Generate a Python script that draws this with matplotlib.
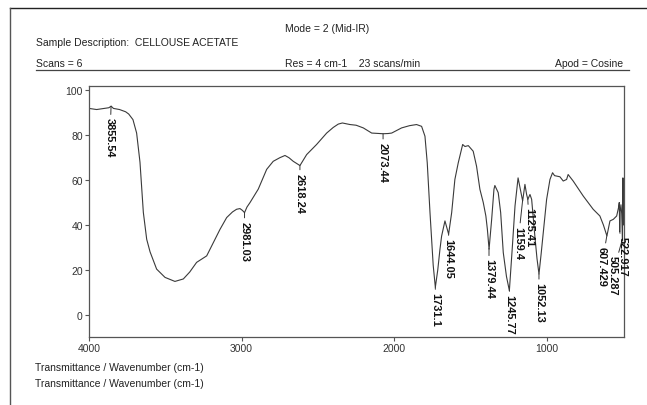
import matplotlib.pyplot as plt
import numpy as np

plt.rcParams['font.family'] = ['Liberation Sans', 'DejaVu Sans']

# spectrum (wavenumber cm-1 / %T)
wavenumber = [4000, 3950, 3900, 3870, 3855, 3840, 3800, 3760, 3740, 3712, 3688, 3666, 3644, 3622,
              3600, 3557, 3502, 3437, 3382, 3340, 3295, 3229, 3207, 3142, 3098, 3060, 3033, 3011,
              2995, 2981, 2965, 2945, 2891, 2836, 2793, 2750, 2716, 2690, 2662, 2618, 2574, 2509,
              2443, 2400, 2367, 2340, 2290, 2250, 2203, 2148, 2100, 2073, 2040, 2017, 1952, 1900,
              1854, 1821, 1799, 1784, 1766, 1745, 1731, 1715, 1701, 1690, 1668, 1653, 1644, 1624,
              1603, 1581, 1552, 1537, 1515, 1483, 1461, 1439, 1417, 1400, 1390, 1379, 1362, 1347,
              1341, 1319, 1303, 1286, 1265, 1246, 1226, 1209, 1189, 1174, 1159, 1144, 1133, 1125,
              1111, 1100, 1079, 1065, 1052, 1038, 1024, 1002, 980, 963, 950, 937, 915, 893, 871,
              861, 828, 762, 697, 653, 630, 607, 587, 565, 543, 530, 526, 523, 520, 515, 510, 505,
              502, 498, 496]
transmittance = [92, 91.5, 92, 92.3, 93, 92, 91.5, 90.5, 89.5, 87, 81, 68, 45.6, 33.6,
                 28, 20.3, 16.6, 14.8, 15.9, 19, 23.3, 26.2, 29.2, 38, 43.3, 45.8, 47, 47.3,
                 46.5, 45.5, 48, 50, 56, 64.8, 68.4, 70, 71, 70, 68.4, 66.5, 71.4, 75.9,
                 81, 83.5, 85, 85.5, 84.8, 84.5, 83.3, 81, 80.8, 80.7, 80.8, 81, 83.3, 84.3,
                 84.8, 84, 79.6, 67.7, 45.5, 22, 12.2, 20, 29, 35, 41.8, 38, 35.9, 45.5,
                 60.3, 67.7, 75.9, 75, 75.4, 72.9, 66.2, 55.9, 50, 44, 38, 29.2, 42.5, 55.9,
                 57.6, 54.4, 45.5, 27.7, 17, 10.7, 30.7, 48.5, 61, 55.9, 50.7, 58.1, 53.6, 51.4,
                 53.6, 51.4, 35, 25, 18.1, 27, 36.6, 51.4, 60.3, 63.3, 62, 61.8, 61.5, 59.6, 60.3,
                 62.5, 59.6, 52.9, 47, 44, 40, 35.1, 41.8, 42.5, 44, 48, 50, 37, 46, 49, 45, 33,
                 61, 40, 50]

peaks = [3855.54, 2981.03, 2618.24, 2073.44, 1731.1, 1644.05, 1379.44, 1245.77,
         1159.4, 1125.41, 1052.13, 607.429, 505.287, 522.917]
peak_text = ['3855.54', '2981.03', '2618.24', '2073.44', '1731.1', '1644.05', '1379.44', '1245.77',
             '1159.4', '1125.41', '1052.13', '607.429', '505.287', '522.917']
# label offsets in pixels (dx, dy down)
label_off = [(-1, 11), (0, 8), (0, 7), (0, 8), (0, 5), (0, 4), (0, 10), (0, 4),
             (-4.5, 25), (1.5, 8), (0, 8), (-5, 10), (-10, 16), (3, 5)]

fig = plt.figure(figsize=(6.47, 4.06), dpi=100)
ax = fig.add_axes([89 / 647, 1 - 338 / 406, 535 / 647, 251 / 406])

ax.plot(wavenumber, transmittance, color='#3a3a3a', lw=0.8)
ax.set_xlim(4000, 495)
ax.set_ylim(-10, 102)
ax.set_xticks([4000, 3000, 2000, 1000])
ax.set_yticks([0, 20, 40, 60, 80, 100])
ax.tick_params(direction='out', length=3, width=0.8, colors='#555555', labelsize=7.5,
               labelcolor='#333333', pad=1.5)
for s in ax.spines.values():
    s.set_color('#555555')
    s.set_linewidth(0.9)

# peak labels
wn_rev = np.array(wavenumber[::-1])
t_rev = np.array(transmittance[::-1])
for p, txt, (dx, dy) in zip(peaks, peak_text, label_off):
    t = np.interp(p, wn_rev, t_rev)
    ax.annotate(txt, xy=(p, t), xytext=(dx, -dy), textcoords='offset pixels',
                rotation=270, ha='center', va='top', fontsize=7.9, fontweight='bold',
                color='#111111', annotation_clip=False,
                arrowprops=dict(arrowstyle='-', lw=0.7, color='#333333', shrinkA=0, shrinkB=0))

# header
fs = 7.5
fig.text(285 / 647, 1 - 29 / 406, 'Mode = 2 (Mid-IR)', fontsize=fs, va='center', color='#222222')
fig.text(36 / 647, 1 - 43 / 406, 'Sample Description:  CELLOUSE ACETATE', fontsize=fs,
         va='center', color='#222222')
fig.text(36 / 647, 1 - 64 / 406, 'Scans = 6', fontsize=fs, va='center', color='#222222')
fig.text(285 / 647, 1 - 64 / 406, 'Res = 4 cm-1    23 scans/min', fontsize=fs, va='center',
         color='#222222')
fig.text(623 / 647, 1 - 64 / 406, 'Apod = Cosine', fontsize=fs, va='center', ha='right',
         color='#222222')
fig.add_artist(plt.Line2D([36 / 647, 629 / 647], [1 - 71 / 406] * 2, color='#444444', lw=0.9))

# outer frame (top and left)
fig.add_artist(plt.Line2D([10 / 647, 1], [1 - 9 / 406] * 2, color='#222222', lw=1.0))
fig.add_artist(plt.Line2D([10 / 647, 10 / 647], [0, 1 - 9 / 406], color='#555555', lw=1.0))

# footer
fig.text(35 / 647, 1 - 368 / 406, 'Transmittance / Wavenumber (cm-1)', fontsize=fs,
         va='center', color='#222222')
fig.text(35 / 647, 1 - 384 / 406, 'Transmittance / Wavenumber (cm-1)', fontsize=fs,
         va='center', color='#222222')

fig.savefig('out.png', dpi=100)
